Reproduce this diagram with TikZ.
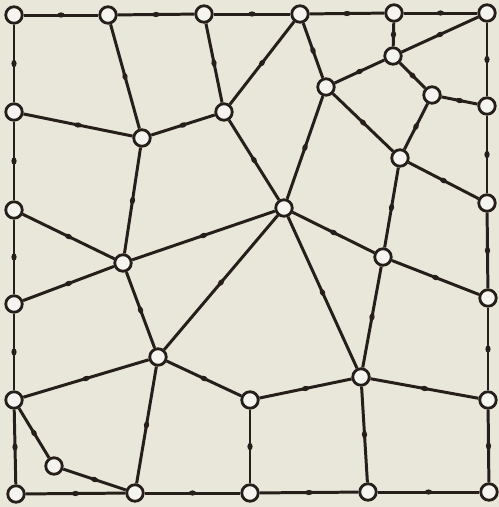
\documentclass[tikz,border=0pt]{standalone}
\usetikzlibrary{shapes.geometric}
\definecolor{paper}{RGB}{233,231,217}
\definecolor{ink}{RGB}{38,30,26}
\tikzset{
  vtx/.style={circle, draw=ink, fill=white!55!paper, line width=0.8pt, minimum size=1.65mm, inner sep=0pt},
  dot/.style={ellipse, sloped, fill=ink, minimum width=0.75mm, minimum height=0.52mm, inner sep=0pt},
  edge/.style={draw=ink, line width=0.85pt}
}
\begin{document}
\begin{tikzpicture}[x=0.1mm, y=-0.1mm]
    \fill[paper] (0,0) rectangle (499,507);
    \useasboundingbox (0,0) rectangle (499,507);

    % border vertices
    \node[vtx] (t1) at (14,15) {};
    \node[vtx] (t2) at (108,15) {};
    \node[vtx] (t3) at (204,14) {};
    \node[vtx] (t4) at (300,14) {};
    \node[vtx] (t5) at (394,13) {};
    \node[vtx] (t6) at (487,13) {};
    \node[vtx] (l1) at (14,112) {};
    \node[vtx] (l2) at (14,210) {};
    \node[vtx] (l3) at (14,304) {};
    \node[vtx] (l4) at (14,400) {};
    \node[vtx] (l5) at (16,494) {};
    \node[vtx] (b1) at (135,493) {};
    \node[vtx] (b2) at (250,493) {};
    \node[vtx] (b3) at (368,492) {};
    \node[vtx] (b4) at (489,492) {};
    \node[vtx] (r1) at (487,106) {};
    \node[vtx] (r2) at (487,203) {};
    \node[vtx] (r3) at (488,298) {};
    \node[vtx] (r4) at (488,400) {};

    % inner vertices
    \node[vtx] (s)   at (142,138) {};
    \node[vtx] (n1)  at (224,112) {};
    \node[vtx] (n2)  at (326,87) {};
    \node[vtx] (n3)  at (393,56) {};
    \node[vtx] (n4)  at (432,95) {};
    \node[vtx] (n5)  at (400,158) {};
    \node[vtx] (c)   at (284,208) {};
    \node[vtx] (n6)  at (383,257) {};
    \node[vtx] (n7)  at (123,263) {};
    \node[vtx] (n8)  at (158,357) {};
    \node[vtx] (n9)  at (361,377) {};
    \node[vtx] (n10) at (54,466) {};
    \node[vtx] (n11) at (250,400) {};

    % edges, each with its mid dot
    \foreach \a/\b in {t1/t2, t2/t3, t3/t4, t4/t5, t5/t6,
                       t1/l1, l1/l2, l2/l3, l3/l4, l4/l5,
                       l5/b1, b1/b2, b2/b3, b3/b4,
                       t6/r1, r1/r2, r2/r3, r3/r4, r4/b4,
                       t2/s, t3/n1, l1/s, s/n1, n1/t4, n1/c, s/n7,
                       t4/n2, t5/n3, t6/n3, n3/n2, n3/n4, n4/r1, n4/n5, n2/n5, n2/c,
                       n5/n6, n5/r2, c/n6, n6/r3, n6/n9, c/n9, c/n8, c/n7,
                       n7/l2, n7/l3, n7/n8, n8/l4, n8/n11, n8/b1, l4/n10, n10/b1,
                       n11/n9, n9/r4, n9/b3, n11/b2}
      \draw[edge] (\a) -- node[dot] {} (\b);
\end{tikzpicture}
\end{document}
